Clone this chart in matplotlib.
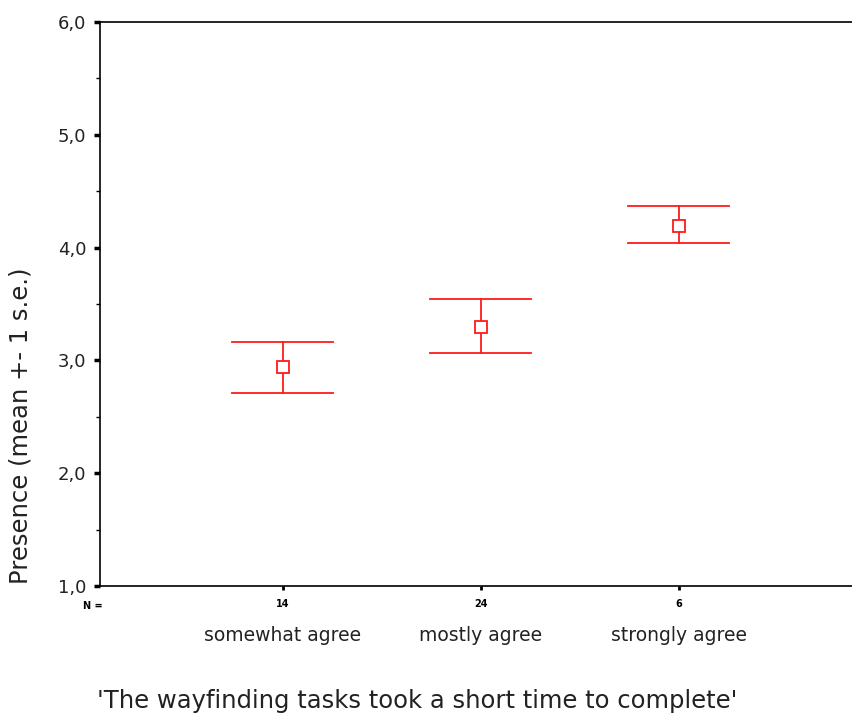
import matplotlib.pyplot as plt
import matplotlib.transforms as mtransforms
from matplotlib.ticker import MultipleLocator

# -------- DATA --------
categories = ['somewhat agree', 'mostly agree', 'strongly agree']
counts = ['14', '24', '6']
means = [2.94, 3.30, 4.19]
upper = [3.16, 3.54, 4.37]
lower = [2.71, 3.07, 4.04]
yticks = [1.0, 2.0, 3.0, 4.0, 5.0, 6.0]
ytick_labels = ['1,0', '2,0', '3,0', '4,0', '5,0', '6,0']
# -------- DATA. --------

plt.rcParams['font.family'] = ['DejaVu Sans']

fig = plt.figure(figsize=(8.52, 7.17), dpi=100, facecolor='w')
ax = fig.add_axes([0.1174, 0.1827, 0.8826, 0.7866])

xpos = [1, 2, 3]
red = '#ff1a1a'
cap = 0.255
for x, m, lo, hi in zip(xpos, means, lower, upper):
    ax.plot([x, x], [lo, hi], color=red, linewidth=1.3)
    ax.plot([x - cap, x + cap], [hi, hi], color=red, linewidth=1.3)
    ax.plot([x - cap, x + cap], [lo, lo], color=red, linewidth=1.3)
ax.plot(xpos, means, linestyle='none', marker='s', markersize=8,
        markerfacecolor='white', markeredgecolor=red, markeredgewidth=1.3)

ax.set_xlim(0.076, 3.874)
ax.set_ylim(1.0, 6.0)

ax.spines['right'].set_visible(False)
for s in ['left', 'top', 'bottom']:
    ax.spines[s].set_linewidth(1.2)

# ---- y axis
ax.set_yticks(yticks)
ax.set_yticklabels(ytick_labels, fontsize=13, color='#222222')
ax.yaxis.set_minor_locator(MultipleLocator(0.5))
ax.tick_params(axis='y', which='major', direction='out', length=4, width=2.5, pad=6)
ax.tick_params(axis='y', which='minor', direction='out', length=3, width=1)

# ---- x axis: N counts as tick labels
ax.set_xticks(xpos)
ax.set_xticklabels(counts, fontsize=7, fontweight='bold')
ax.tick_params(axis='x', direction='out', length=3, width=2, pad=6)

trans = mtransforms.blended_transform_factory(ax.transData, ax.transAxes)
ax.text(0.076 - 0.035, -0.036, 'N =', transform=trans, fontsize=7,
        fontweight='bold', ha='center', va='center')
for x, c in zip(xpos, categories):
    ax.text(x, -0.087, c, transform=trans, fontsize=13.5, ha='center', va='center',
            color='#222222')

ax.set_ylabel('Presence (mean +- 1 s.e.)', fontsize=17.5, color='#222222')
ax.yaxis.set_label_coords(-0.09, 0.285)
fig.text(0.49, 0.022, "'The wayfinding tasks took a short time to complete'",
         fontsize=17.5, ha='center', va='center', color='#222222')

plt.savefig('out.png', dpi=100)
plt.close()
